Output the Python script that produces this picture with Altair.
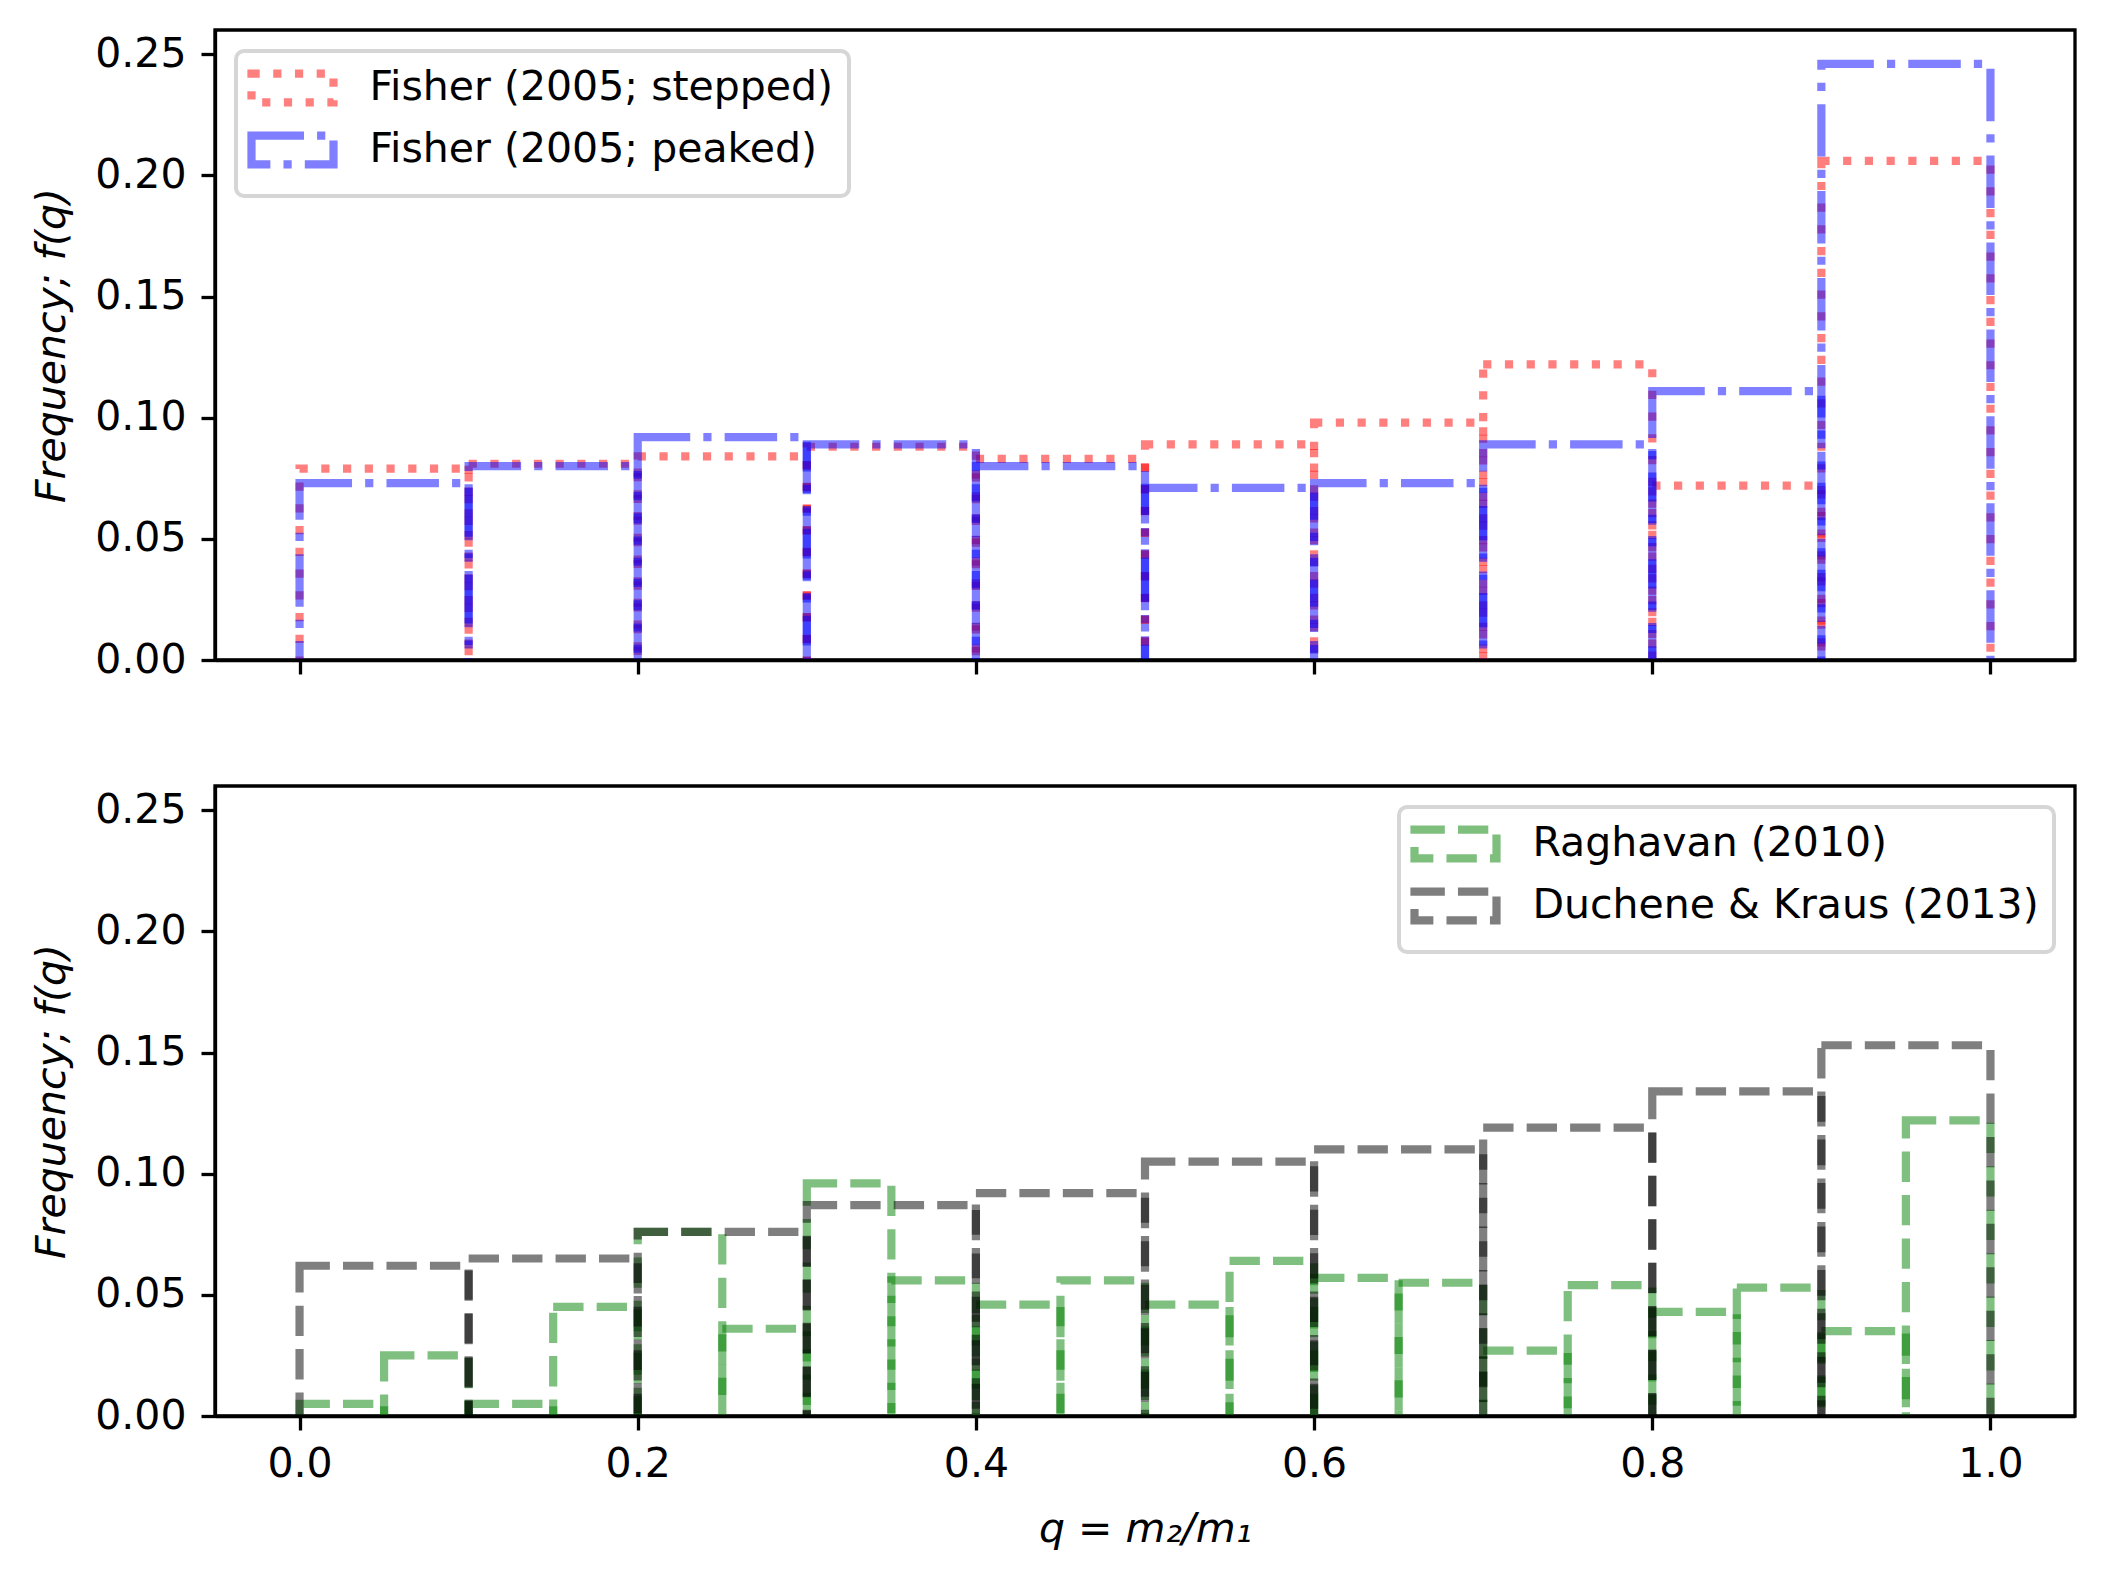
import altair as alt
import pandas as pd

# Bin edges of the mass-ratio histograms
edges_10 = [0.0, 0.1, 0.2, 0.3, 0.4, 0.5, 0.6, 0.7, 0.8, 0.9, 1.0]
edges_20 = [0.0, 0.05, 0.1, 0.15, 0.2, 0.25, 0.3, 0.35, 0.4, 0.45, 0.5,
            0.55, 0.6, 0.65, 0.7, 0.75, 0.8, 0.85, 0.9, 0.95, 1.0]

# Frequencies per bin
fisher_stepped = [0.079, 0.081, 0.084, 0.088, 0.083, 0.089, 0.098, 0.122, 0.072, 0.206]
fisher_peaked = [0.073, 0.080, 0.092, 0.089, 0.080, 0.071, 0.073, 0.089, 0.111, 0.246]
raghavan = [0.005, 0.025, 0.005, 0.045, 0.076, 0.036, 0.096, 0.056, 0.046, 0.056,
            0.046, 0.064, 0.057, 0.055, 0.027, 0.054, 0.043, 0.053, 0.035, 0.122]
duchene_kraus = [0.062, 0.065, 0.076, 0.087, 0.092, 0.105, 0.110, 0.119, 0.134, 0.153]

top_names = ["Fisher (2005; stepped)", "Fisher (2005; peaked)"]
bottom_names = ["Raghavan (2010)", "Duchene & Kraus (2013)"]

FONT = "DejaVu Sans"
FS = 41
LW = 8.2
PLOT_W, PLOT_H = 1860, 630

DOTTED = [round(LW * 1.0, 2), round(LW * 1.65, 2)]
DASHDOT = [round(LW * 6.4, 2), round(LW * 1.6, 2), round(LW * 1.0, 2), round(LW * 1.6, 2)]
DASHED = [round(LW * 3.7, 2), round(LW * 1.6, 2)]

# legend handle: a 2 x 0.7 em outlined box
LEGEND_SHAPE = "M-2.343,-0.82H2.343V0.82H-2.343Z"

x_scale = alt.Scale(domain=[-0.05, 1.05], nice=False, zero=False)
y_scale = alt.Scale(domain=[0, 0.26], nice=False)


def bins_frame(name, edges, freqs):
    return pd.DataFrame({"series": name, "lo": edges[:-1], "hi": edges[1:], "freq": freqs})


def axes(bottom):
    x_axis = alt.Axis(
        values=edges_10[::2], format=".1f", labels=bottom,
        title="q = m₂/m₁" if bottom else None,
        titleFont=FONT, titleFontSize=FS, titleFontStyle="italic", titleFontWeight="normal",
        titleColor="black", titlePadding=25,
        labelFont=FONT, labelFontSize=FS, labelColor="black", labelPadding=14,
        tickSize=14, tickWidth=3.3, tickColor="black",
        domainColor="black", domainWidth=3.3, grid=False, zindex=1,
    )
    y_axis = alt.Axis(
        values=[0.0, 0.05, 0.1, 0.15, 0.2, 0.25], format=".2f",
        title="Frequency; f(q)",
        titleFont=FONT, titleFontSize=FS, titleFontStyle="italic", titleFontWeight="normal",
        titleColor="black", titlePadding=21,
        labelFont=FONT, labelFontSize=FS, labelColor="black", labelPadding=15,
        tickSize=14, tickWidth=3.3, tickColor="black",
        domainColor="black", domainWidth=3.3, grid=False, zindex=1,
    )
    return x_axis, y_axis


def panel(series, colors, dashes, orient, bottom):
    names = [s[0] for s in series]
    dash_expr = "datum.index == 0 ? [{}] : [{}]".format(
        ",".join(str(v) for v in dashes[0]), ",".join(str(v) for v in dashes[1]))
    legend = alt.Legend(
        title=None, orient=orient, offset=21,
        symbolType=LEGEND_SHAPE, symbolSize=1225, symbolStrokeWidth=LW,
        symbolOpacity=0.5, symbolOffset=19.5, symbolFillColor="transparent",
        symbolDash=alt.ExprRef(expr=dash_expr),
        labelOffset=55, rowPadding=0, padding=15,
        labelFont=FONT, labelFontSize=FS, labelColor="black", labelLimit=2000,
        strokeColor="#d6d6d6", fillColor="white", cornerRadius=8,
    )
    x_axis, y_axis = axes(bottom)
    layers = []
    for (name, edges, freqs), dash in zip(series, dashes):
        layers.append(
            alt.Chart(bins_frame(name, edges, freqs)).mark_rect(
                filled=False, strokeWidth=LW, strokeOpacity=0.5, strokeDash=dash, clip=True
            ).encode(
                x=alt.X("lo:Q", scale=x_scale, axis=x_axis),
                x2="hi:Q",
                y=alt.Y("freq:Q", scale=y_scale, axis=y_axis),
                y2=alt.value(PLOT_H + 20),
                color=alt.Color("series:N", scale=alt.Scale(domain=names, range=colors), legend=legend),
            )
        )
    return alt.layer(*layers).properties(width=PLOT_W, height=PLOT_H)


top = panel(
    [(top_names[0], edges_10, fisher_stepped), (top_names[1], edges_10, fisher_peaked)],
    ["#ff0000", "#0000ff"], [DOTTED, DASHDOT], "top-left", False,
)
bottom = panel(
    [(bottom_names[0], edges_20, raghavan), (bottom_names[1], edges_10, duchene_kraus)],
    ["#008000", "#000000"], [DASHED, DASHED], "top-right", True,
)

chart = alt.vconcat(top, bottom, spacing=126, bounds="flush").resolve_scale(
    color="independent"
).resolve_legend(
    color="independent"
).properties(
    padding={"left": 30, "top": 28, "right": 20, "bottom": 10},
    background="white",
).configure_view(
    stroke="black", strokeWidth=3.3
).configure_legend(
    strokeWidth=4
)

chart.save("out.html", embed_options={"renderer": "svg", "actions": False})
